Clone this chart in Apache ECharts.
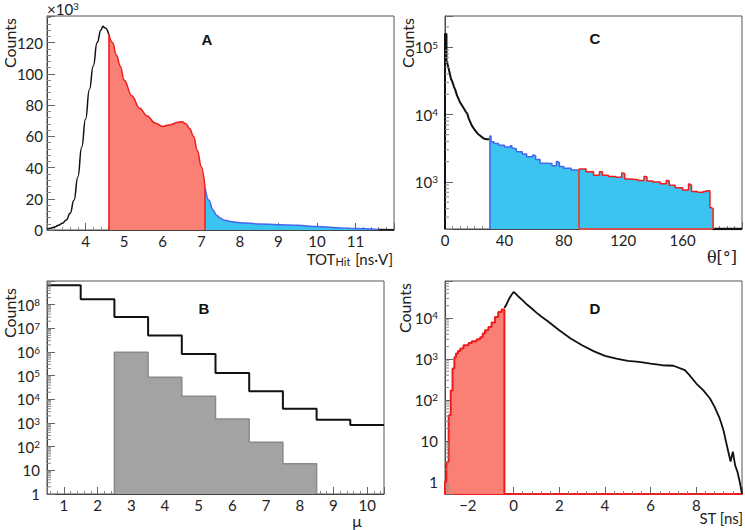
<!DOCTYPE html>
<html><head><meta charset="utf-8">
<script src="https://cdn.jsdelivr.net/npm/echarts@6/dist/echarts.min.js"></script>
<style>html,body{margin:0;padding:0;background:#fff}#c{width:745px;height:530px}</style>
</head><body><div id="c"></div>
<script>
// ---------- Panel A : TOT_Hit (counts in thousands) ----------
const aBlackTot = [3.0,3.1,3.2,3.3,3.4,3.5,3.6,3.7,3.8,3.9,4.0,4.1,4.2,4.3,4.4,4.45,4.5,4.6];
const aBlackCnt = [0.5,1.2,2.0,3.0,4.3,6.4,10.7,19,34,53,71,90,105,120,128,130.5,129.4,125.5];
const aRedTot = [4.6,4.7,4.8,4.9,5.0,5.2,5.4,5.6,5.8,6.0,6.2,6.4,6.5,6.6,6.7,6.8,6.9,7.0,7.1];
const aRedCnt = [125.5,120,112,105,96,86,78,73,68.5,66.3,67.4,69,69.3,68,65,60,51,40.6,27];
const aBlueTot = [7.1,7.2,7.3,7.4,7.5,7.6,7.8,8.0,8.5,9.0,9.5,10.0,10.5,11.0,11.6];
const aBlueCnt = [27,19,13,9.5,7.5,6.3,5.3,4.7,3.9,3.4,3.0,2.2,1.5,0.9,0.4];
const aTailTot = [11.6,12.0];
const aTailCnt = [0.4,0.2];

// ---------- Panel B : multiplicity mu ----------
const muAll = [1,2,3,4,5,6,7,8,9,10];
const bAllCnt = [6.6e8,1.7e8,3.0e7,5.0e6,8.3e5,1.3e5,2.2e4,4.0e3,1.38e3,8.2e2];
const muSel = [3,4,5,6,7,8];
const bSelCnt = [9.7e5,8.5e4,1.34e4,1.48e3,1.52e2,19];

// ---------- Panel C : theta (deg) ----------
const cBlackTheta = [0,0,1,1,2,3,4,5,6,7,8,10,12,14,15,16,18,20,22,24,26,28,30];
const cBlackCnt = [200,157000,157000,63000,53000,42700,34000,30500,26000,23000,19400,15400,13000,11000,10300,8700,6900,5900,5200,4800,4400,4300,4300];
const cBlueTheta = [30,31,33,36,40,44,45,46,48,52,55,59,60,61,64,68,72,75,76,77,80,85,89,90];
const cBlueCnt = [4800,3960,3700,3500,3300,3450,3150,3100,2800,2600,2360,2500,2450,2150,1900,1870,1740,2000,1950,1700,1600,1500,1470,1550];
const cRedTheta = [90,95,100,104,105,106,110,115,119,120,121,125,130,134,135,136,140,145,149,150,151,155,160,164,165,166,170,174,176,178.4,178.4,180];
const cRedCnt = [1550,1420,1260,1420,1400,1260,1200,1170,1350,1320,1100,1080,1050,1200,1180,1030,1000,940,1050,1030,890,820,760,930,900,720,700,720,740,740,415,415];

// ---------- Panel D : ST (ns) ----------
const dRedST = [-3.0,-2.94,-2.84,-2.75,-2.67,-2.59,-2.52,-2.43,-2.33,-2.19,-1.97,-1.83,-1.61,-1.46,-1.35,-1.25,-1.10,-0.96,-0.81,-0.67,-0.52,-0.4];
const dRedCnt = [1,3,42,170,580,1100,1350,1550,1800,2150,2450,2700,3000,3400,4200,5000,6000,7700,10500,14000,16000,16000];
const dBlackST = [-0.4,-0.3,-0.2,-0.1,0.0,0.1,0.2,0.4,0.6,0.8,1.0,1.2,1.5,2.0,2.5,3.0,3.5,4.0,4.5,5.0,5.5,6.0,6.5,7.0,7.5,7.7,8.0,8.3,8.6,8.8,9.0,9.1,9.2,9.3,9.4,9.5,9.6,9.7,9.8,9.9,10.0];
const dBlackCnt = [17500,22000,29000,36000,43000,39000,34000,27000,21000,17000,13500,11000,8300,5000,3160,2150,1550,1180,1020,890,850,770,700,680,530,400,250,172,108,67,38,26,17,9.5,5.4,3.1,5.4,2.5,1.75,1,0.5];

// axis limits
const A_X = [3, 12], A_Y = [0, 137];
const B_X = [0.5, 10.5], B_Y = [1, 1e9];
const C_X = [0, 200], C_Y = [200, 2.9e5];
const D_X = [-3, 10], D_Y = [0.5, 8e4];

const zip = (xs, ys) => xs.map((x, i) => [x, ys[i]]);
const FONT = 'Lato';
const TXT = '#222';

function logLabelFor(ext) {
  return function (v) {
    if (v >= ext[1] * 0.999) return '';
    const e = Math.log10(v), r = Math.round(e);
    if (Math.abs(e - r) > 1e-6) return '';
    if (r === 0) return '1';
    if (r === 1) return '10';
    return '10{sup|' + r + '}';
  };
}
const supRich = { sup: { fontSize: 10, verticalAlign: 'top', lineHeight: 12, fontFamily: FONT, color: TXT, padding: [0, 0, 4, 0] } };

function minorLog(lo, hi) {
  const out = [];
  for (let e = Math.floor(Math.log10(lo)); e <= Math.ceil(Math.log10(hi)); e++) {
    for (let k = 2; k <= 9; k++) { const v = k * Math.pow(10, e); if (v > lo && v < hi) out.push(v); }
  }
  return out;
}
function minorTickSeries(idx, xmin, lo, hi) {
  return {
    type: 'custom', xAxisIndex: idx, yAxisIndex: idx, silent: true, z: 5,
    data: minorLog(lo, hi).map(v => [xmin, v]),
    renderItem: (params, api) => {
      const p = api.coord([api.value(0), api.value(1)]);
      return { type: 'line', shape: { x1: p[0], y1: p[1], x2: p[0] + 4, y2: p[1] }, style: { stroke: '#888', lineWidth: 1 } };
    }
  };
}

function xAxisCfg(idx, ext, showMin, extra) {
  return Object.assign({
    gridIndex: idx, type: 'value', min: ext[0], max: ext[1],
    axisLine: { show: true, onZero: false, lineStyle: { color: '#444', width: 1 } },
    axisTick: { show: true, inside: true, length: 7, lineStyle: { color: '#666' } },
    minorTick: { show: true, splitNumber: 5, length: 3, lineStyle: { color: '#888' } },
    splitLine: { show: false },
    axisLabel: {
      color: TXT, fontFamily: FONT, fontSize: 15, margin: 3,
      formatter: v => ((!showMin && v <= ext[0] + 1e-9) || v >= ext[1] - 1e-9) ? '' : String(v).replace('-', '\u2212')
    }
  }, extra || {});
}
function yLinCfg(idx, ext, interval) {
  return {
    gridIndex: idx, type: 'value', min: ext[0], max: ext[1], interval: interval,
    axisLine: { show: true, onZero: false, lineStyle: { color: '#444' } },
    axisTick: { show: true, inside: true, length: 8, lineStyle: { color: '#666' } },
    minorTick: { show: true, splitNumber: 5, length: 4, lineStyle: { color: '#888' } },
    splitLine: { show: false },
    axisLabel: { color: TXT, fontFamily: FONT, fontSize: 15, margin: 4, showMaxLabel: false }
  };
}
function yLogCfg(idx, ext) {
  return {
    gridIndex: idx, type: 'log', logBase: 10, min: ext[0], max: ext[1],
    axisLine: { show: true, onZero: false, lineStyle: { color: '#444' } },
    axisTick: { show: true, inside: true, length: 8, lineStyle: { color: '#666' } },
    splitLine: { show: false },
    axisLabel: { color: TXT, fontFamily: FONT, fontSize: 15, margin: 7, formatter: logLabelFor(ext), rich: supRich }
  };
}

const grids = [
  { left: 47, top: 16, width: 347, height: 214 },   // A
  { left: 445, top: 16, width: 298, height: 213 },  // C
  { left: 47, top: 281, width: 337, height: 213 },  // B
  { left: 445, top: 281, width: 299, height: 213 }  // D
].map(g => Object.assign({ show: true, borderColor: '#555', borderWidth: 1, backgroundColor: '#fff' }, g));

const RED = '#ee1c1c', REDFILL = 'rgba(250,128,118,1)';
const BLUE = '#4466ee', CYAN = 'rgb(60,196,240)';

const option = {
  animation: false,
  backgroundColor: '#fff',
  grid: grids,
  xAxis: [
    xAxisCfg(0, A_X, false, { interval: 1 }),
    xAxisCfg(1, C_X, true, { interval: 40, minorTick: { show: true, splitNumber: 8, length: 3, lineStyle: { color: '#888' } } }),
    xAxisCfg(2, B_X, false, { splitNumber: 10 }),
    xAxisCfg(3, D_X, false, { splitNumber: 7, axisLine: { show: true, onZero: false, lineStyle: { color: RED, width: 2 } } })
  ],
  yAxis: [
    yLinCfg(0, A_Y, 20),
    yLogCfg(1, C_Y),
    yLogCfg(2, B_Y),
    yLogCfg(3, D_Y)
  ],
  series: [
    // ---- A ----
    { type: 'line', xAxisIndex: 0, yAxisIndex: 0, data: zip(aBlackTot, aBlackCnt), showSymbol: false, smooth: 0.5, smoothMonotone: 'x', lineStyle: { color: '#111', width: 1.5 } },
    { type: 'line', xAxisIndex: 0, yAxisIndex: 0, data: zip(aRedTot, aRedCnt), showSymbol: false, smooth: 0.4, smoothMonotone: 'x', lineStyle: { color: RED, width: 1.5 }, areaStyle: { color: REDFILL, opacity: 1 },
      markLine: { silent: true, symbol: 'none', label: { show: false }, lineStyle: { color: RED, width: 1.5, type: 'solid' },
        data: [[{ coord: [aRedTot[0], 0] }, { coord: [aRedTot[0], aRedCnt[0]] }], [{ coord: [aRedTot[aRedTot.length - 1], 0] }, { coord: [aRedTot[aRedTot.length - 1], aRedCnt[aRedCnt.length - 1]] }]] } },
    { type: 'line', xAxisIndex: 0, yAxisIndex: 0, data: zip(aBlueTot, aBlueCnt), showSymbol: false, smooth: 0.4, smoothMonotone: 'x', lineStyle: { color: BLUE, width: 1.5 }, areaStyle: { color: CYAN, opacity: 1 } },
    { type: 'line', xAxisIndex: 0, yAxisIndex: 0, data: zip(aTailTot, aTailCnt), showSymbol: false, lineStyle: { color: '#111', width: 1.5 } },

    // ---- C ----
    { type: 'line', xAxisIndex: 1, yAxisIndex: 1, data: zip(cBlackTheta, cBlackCnt), showSymbol: false, lineStyle: { color: '#111', width: 2 } },
    { type: 'line', xAxisIndex: 1, yAxisIndex: 1, data: zip(cBlueTheta, cBlueCnt), showSymbol: false, step: 'end', lineStyle: { color: BLUE, width: 1.5 }, areaStyle: { color: CYAN, opacity: 1, origin: 'start' },
      markLine: { silent: true, symbol: 'none', label: { show: false }, lineStyle: { color: BLUE, width: 1.5, type: 'solid' },
        data: [[{ coord: [cBlueTheta[0], C_Y[0]] }, { coord: [cBlueTheta[0], cBlueCnt[0]] }]] } },
    { type: 'line', xAxisIndex: 1, yAxisIndex: 1, data: zip(cRedTheta, cRedCnt), showSymbol: false, step: 'end', lineStyle: { color: RED, width: 1.5 }, areaStyle: { color: CYAN, opacity: 1, origin: 'start' },
      markLine: { silent: true, symbol: 'none', label: { show: false }, lineStyle: { color: '#d05050', width: 2, type: 'solid' },
        data: [
          [{ coord: [cRedTheta[0], C_Y[0]] }, { coord: [cRedTheta[0], cRedCnt[0]] }],
          [{ coord: [cRedTheta[cRedTheta.length - 1], C_Y[0]] }, { coord: [cRedTheta[cRedTheta.length - 1], cRedCnt[cRedCnt.length - 1]] }],
          [{ coord: [cRedTheta[0], C_Y[0]] }, { coord: [cRedTheta[cRedTheta.length - 1], C_Y[0]] }]
        ] } },
    { type: 'line', xAxisIndex: 1, yAxisIndex: 1, data: [[180, C_Y[0]], [200, C_Y[0]]], showSymbol: false, lineStyle: { color: '#111', width: 2.5 } },
    minorTickSeries(1, C_X[0], C_Y[0], C_Y[1]),

    // ---- B ----
    { type: 'line', xAxisIndex: 2, yAxisIndex: 2, step: 'end', showSymbol: false,
      data: [[muSel[0] - 0.5, B_Y[0]]].concat(muSel.map((m, i) => [m - 0.5, bSelCnt[i]]), [[muSel[muSel.length - 1] + 0.5, bSelCnt[bSelCnt.length - 1]], [muSel[muSel.length - 1] + 0.5, B_Y[0]]]),
      lineStyle: { color: '#8a8a8a', width: 1.5 }, areaStyle: { color: '#a3a3a3', opacity: 1, origin: 'start' } },
    { type: 'line', xAxisIndex: 2, yAxisIndex: 2, step: 'end', showSymbol: false,
      data: muAll.map((m, i) => [m - 0.5, bAllCnt[i]]).concat([[muAll[muAll.length - 1] + 0.5, bAllCnt[bAllCnt.length - 1]]]),
      lineStyle: { color: '#111', width: 2 } },
    minorTickSeries(2, B_X[0], B_Y[0], B_Y[1]),

    // ---- D ----
    { type: 'line', xAxisIndex: 3, yAxisIndex: 3, step: 'end', showSymbol: false,
      data: [[dRedST[0], D_Y[0]]].concat(zip(dRedST, dRedCnt), [[dRedST[dRedST.length - 1], D_Y[0]]]),
      lineStyle: { color: RED, width: 2 }, areaStyle: { color: REDFILL, opacity: 1, origin: 'start' } },
    { type: 'line', xAxisIndex: 3, yAxisIndex: 3, showSymbol: false, data: zip(dBlackST, dBlackCnt), lineStyle: { color: '#111', width: 1.8 } },
    minorTickSeries(3, D_X[0], D_Y[0], D_Y[1])
  ],
  graphic: [
    { type: 'text', left: 47, top: 1, style: { text: '\u00d710{sup|3}', fill: TXT, font: '15px ' + FONT, rich: { sup: { fontSize: 10, verticalAlign: 'top', fontFamily: FONT, fill: TXT, padding: [0,0,5,0] } } } },
    { type: 'text', x: 207, y: 39, style: { text: 'A', fill: '#111', font: 'bold 15px "Liberation Sans"', align: 'center', verticalAlign: 'middle' } },
    { type: 'text', x: 595, y: 38, style: { text: 'C', fill: '#111', font: 'bold 15px "Liberation Sans"', align: 'center', verticalAlign: 'middle' } },
    { type: 'text', x: 204, y: 308, style: { text: 'B', fill: '#111', font: 'bold 15px "Liberation Sans"', align: 'center', verticalAlign: 'middle' } },
    { type: 'text', x: 595, y: 308, style: { text: 'D', fill: '#111', font: 'bold 15px "Liberation Sans"', align: 'center', verticalAlign: 'middle' } },
    { type: 'text', x: 9, y: 43, rotation: Math.PI / 2, style: { text: 'Counts', fill: TXT, font: '16px ' + FONT, align: 'center', verticalAlign: 'middle' } },
    { type: 'text', x: 407, y: 43, rotation: Math.PI / 2, style: { text: 'Counts', fill: TXT, font: '16px ' + FONT, align: 'center', verticalAlign: 'middle' } },
    { type: 'text', x: 9, y: 313, rotation: Math.PI / 2, style: { text: 'Counts', fill: TXT, font: '16px ' + FONT, align: 'center', verticalAlign: 'middle' } },
    { type: 'text', x: 404, y: 308, rotation: Math.PI / 2, style: { text: 'Counts', fill: TXT, font: '16px ' + FONT, align: 'center', verticalAlign: 'middle' } },
    { type: 'text', x: 393, y: 259, style: { text: 'TOT{sub|Hit} [ns\u00b7V]', fill: TXT, font: '15px ' + FONT, align: 'right', verticalAlign: 'middle', rich: { sub: { fontSize: 11, fontFamily: FONT, fill: TXT, verticalAlign: 'bottom', padding: [4,1,0,0] } } } },
    { type: 'text', x: 737, y: 257, style: { text: '\u03b8[\u00b0]', fill: TXT, font: '16px "DejaVu Serif"', align: 'right', verticalAlign: 'middle' } },
    { type: 'text', x: 357, y: 520, style: { text: '\u03bc', fill: TXT, font: '16px ' + FONT, align: 'center', verticalAlign: 'middle' } },
    { type: 'text', x: 743, y: 518, style: { text: 'ST [ns]', fill: TXT, font: '15px ' + FONT, align: 'right', verticalAlign: 'middle' } }
  ]
};

const chart = echarts.init(document.getElementById('c'), null, { renderer: 'svg', width: 745, height: 530 });
chart.setOption(option);
</script>
</body></html>
